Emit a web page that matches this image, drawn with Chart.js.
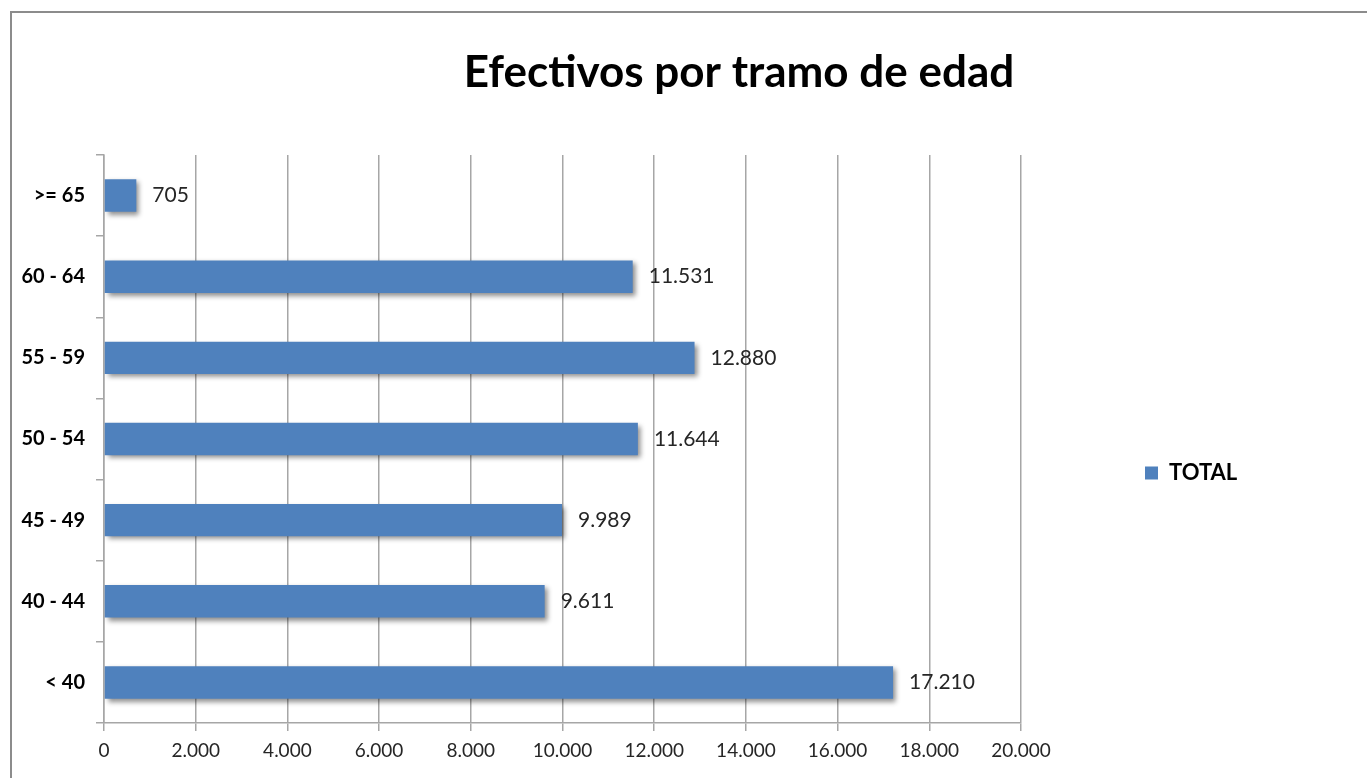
<!DOCTYPE html>
<html lang="es">
<head>
<meta charset="utf-8">
<title>Efectivos por tramo de edad</title>
<script src="https://cdn.jsdelivr.net/npm/chart.js@4/dist/chart.umd.min.js"></script>
<style>
    html, body { margin: 0; padding: 0; background: #fff; overflow: hidden; }
    #frame {
        position: absolute;
        left: 10px;
        top: 11px;
        width: 1454px;
        height: 787px;
        border: 2px solid #8c8c8c;
    }
</style>
</head>
<body>
<div id="frame"><canvas id="edadChart"></canvas></div>
<script>
// ============================================
// DATOS
// ============================================

const tramos = ['< 40', '40 - 44', '45 - 49', '50 - 54', '55 - 59', '60 - 64', '>= 65'];
const totales = [17210, 9611, 9989, 11644, 12880, 11531, 705];
const serieNombre = 'TOTAL';
const ejeMax = 20000;
const ejePaso = 2000;

const azul = '#4f81bd';
const gris = '#a6a6a6';

// miles con punto: 17210 -> 17.210
function miles(v) {
    return String(v).replace(/\B(?=(\d{3})+(?!\d))/g, '.');
}

// ============================================
// SOMBRA DE LAS BARRAS + ETIQUETAS DE VALOR
// ============================================

const barrasPlugin = {
    id: 'barras',
    beforeDatasetsDraw(chart) {
        const ctx = chart.ctx;
        ctx.save();
        ctx.shadowColor = 'rgba(0,0,0,0.45)';
        ctx.shadowBlur = 5;
        ctx.shadowOffsetX = 3;
        ctx.shadowOffsetY = 3;
    },
    afterDatasetsDraw(chart) {
        const ctx = chart.ctx;
        ctx.restore();
        ctx.save();
        ctx.font = '21px Lato';
        ctx.fillStyle = '#262626';
        ctx.textAlign = 'left';
        ctx.textBaseline = 'middle';
        chart.getDatasetMeta(0).data.forEach((bar, i) => {
            ctx.fillText(miles(totales[i]), bar.x + 16, bar.y);
        });
        ctx.restore();
    }
};

// ============================================
// GRÁFICO
// ============================================

Chart.defaults.font.family = 'Lato';

const ctx = document.getElementById('edadChart').getContext('2d');
new Chart(ctx, {
    type: 'bar',
    data: {
        labels: tramos,
        datasets: [{
            label: serieNombre,
            data: totales,
            backgroundColor: azul,
            borderWidth: 0,
            barPercentage: 0.4,
            categoryPercentage: 1.0
        }]
    },
    options: {
        indexAxis: 'y',
        responsive: true,
        maintainAspectRatio: false,
        animation: false,
        layout: { padding: 0 },
        plugins: {
            title: {
                display: true,
                text: 'Efectivos por tramo de edad',
                color: '#000',
                font: { size: 44, weight: 'bold', lineHeight: 1 },
                padding: { top: 38, bottom: 60 }
            },
            legend: {
                position: 'right',
                fullSize: false,
                title: {
                    display: true,
                    text: '',
                    font: { size: 10, lineHeight: 1 },
                    padding: { top: 58, bottom: 0 }
                },
                labels: {
                    color: '#000',
                    boxWidth: 13,
                    boxHeight: 13,
                    padding: 124,
                    font: { size: 22, weight: 'bold' }
                }
            },
            tooltip: { enabled: false }
        },
        scales: {
            x: {
                min: 0,
                max: ejeMax,
                ticks: {
                    stepSize: ejePaso,
                    color: '#262626',
                    padding: 8,
                    font: { size: 19 },
                    callback: v => miles(v)
                },
                grid: { color: gris, lineWidth: 1.5, tickLength: 8 },
                border: { color: gris, width: 1.5 },
                afterFit: s => { s.height = 77; }
            },
            y: {
                reverse: true,
                ticks: {
                    color: '#000',
                    padding: 11,
                    font: { size: 20, weight: 'bold' }
                },
                grid: { color: gris, lineWidth: 1.5, drawOnChartArea: false, tickLength: 8 },
                border: { color: gris, width: 1.5 },
                afterFit: s => { s.width = 92; }
            },
            // hueco a la derecha de la leyenda (el gráfico original es más ancho que la captura)
            espacio: {
                type: 'linear',
                position: 'right',
                weight: 2000,
                ticks: { display: false },
                grid: { display: false },
                border: { display: false },
                afterFit: s => {
                    const leyenda = s.chart.legend ? s.chart.legend.width : 0;
                    s.width = Math.max(0, 1454 - 1009 - leyenda);
                }
            }
        }
    },
    plugins: [barrasPlugin]
});
</script>
</body>
</html>
